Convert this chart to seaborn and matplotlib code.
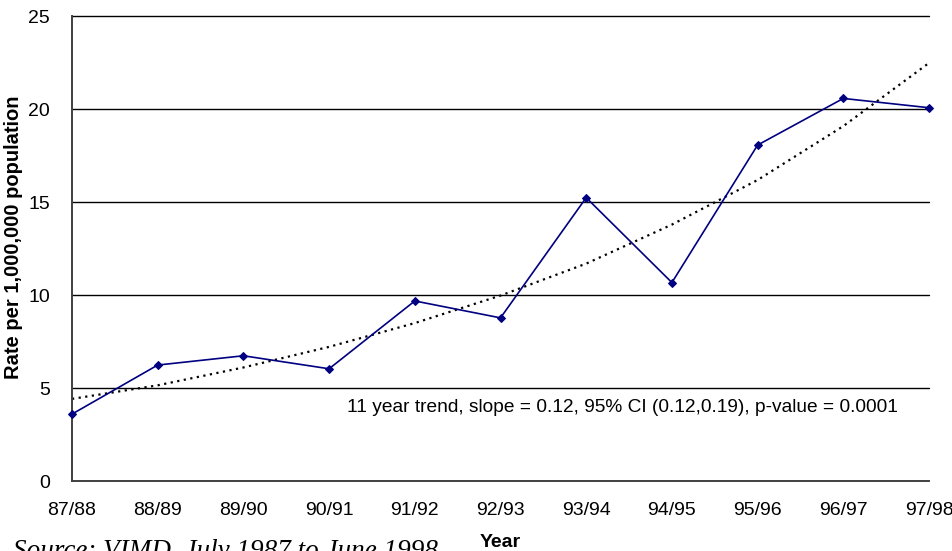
import numpy as np
import pandas as pd
import seaborn as sns
import matplotlib.pyplot as plt

# data
years = ["87/88", "88/89", "89/90", "90/91", "91/92", "92/93",
         "93/94", "94/95", "95/96", "96/97", "97/98"]
rate = [3.6, 6.24, 6.74, 6.04, 9.69, 8.78, 15.25, 10.68, 18.08, 20.59, 20.09]
trend = [4.42, 5.15, 6.11, 7.22, 8.5, 9.98, 11.7, 13.8, 16.2, 19.1, 22.5]

df = pd.DataFrame({"year": years, "rate": rate, "trend": trend})
df["x"] = np.arange(len(years))

sns.set_style("white")
plt.rcParams["font.family"] = ["Liberation Sans", "DejaVu Sans"]
plt.rcParams["text.color"] = "black"
plt.rcParams["axes.labelcolor"] = "black"

fig = plt.figure(figsize=(9.53, 5.51), dpi=100)
W, H = 953, 551
ax = fig.add_axes([72 / W, (H - 481) / H, (929 - 72) / W, (481 - 16.5) / H])

for v in [5, 10, 15, 20, 25]:
    ax.axhline(v, color="black", lw=1.0, zorder=1, clip_on=False)

sns.lineplot(data=df, x="x", y="trend", ax=ax, color="black",
             lw=1.6, linestyle=(0, (1, 2)), zorder=2)
sns.lineplot(data=df, x="x", y="rate", ax=ax, color="#000080", lw=1.2,
             marker="D", markersize=4.5, markeredgecolor="#000080", zorder=3,
             clip_on=False)

ax.set_xlim(0, len(years) - 1)
ax.set_ylim(0, 25)
ax.set_xticks(df["x"])
ax.set_xticklabels(years)
ax.set_yticks([0, 5, 10, 15, 20, 25])
ax.tick_params(axis="both", direction="out", length=6, width=1.2,
               color="#404040", labelsize=14, labelcolor="black")
ax.tick_params(axis="x", pad=9)
ax.tick_params(axis="y", pad=10)

for s in ["top", "right"]:
    ax.spines[s].set_visible(False)
for s in ["left", "bottom"]:
    ax.spines[s].set_color("#404040")
    ax.spines[s].set_linewidth(1.4)

ax.set_xlabel("Year", fontsize=14, fontweight="bold", labelpad=11)
ax.set_ylabel("")

fig.text(14 / W, 1 - 379 / H, "Rate per 1,000,000 population",
         rotation=90, fontsize=14.5, fontweight="bold",
         ha="center", va="bottom")

ax.text((347 - 72) / 857, (481 - 408) / 464.5,
        "11 year trend, slope = 0.12, 95% CI (0.12,0.19), p-value = 0.0001",
        transform=ax.transAxes, fontsize=13.8, ha="left", va="center")

fig.text(13 / W, 1 - 558 / H, "Source: VIMD, July 1987 to June 1998",
         fontsize=19.5, style="italic", family="Liberation Serif",
         ha="left", va="baseline")

fig.savefig("out.png", dpi=100)
